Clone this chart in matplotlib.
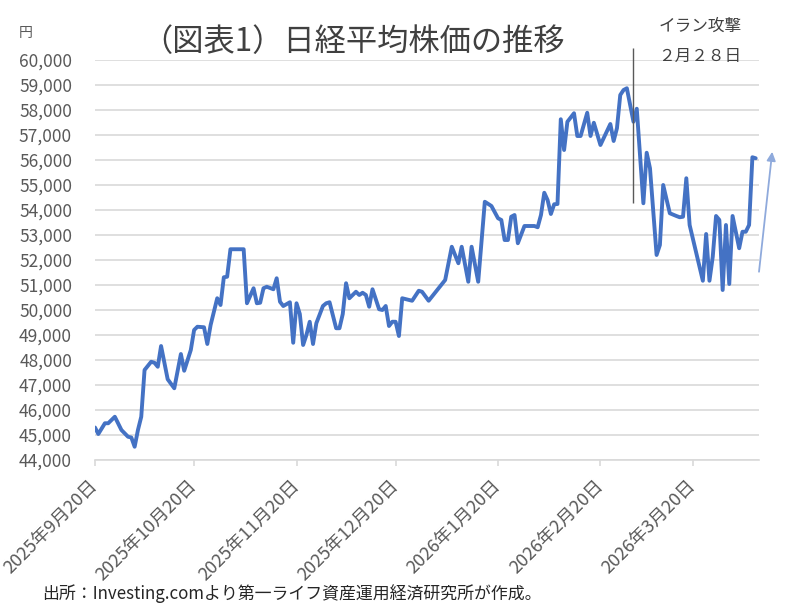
import matplotlib
matplotlib.use('Agg')
import matplotlib.pyplot as plt
import matplotlib.ticker as mticker
import pandas as pd

plt.rcParams['font.family'] = ['Noto Sans CJK JP', 'DejaVu Sans']

# 日経平均
dates = [
    '2025-09-20', '2025-09-21', '2025-09-23', '2025-09-24', '2025-09-26', '2025-09-28',
    '2025-09-30', '2025-10-01', '2025-10-02', '2025-10-03', '2025-10-04', '2025-10-05',
    '2025-10-07', '2025-10-08', '2025-10-09', '2025-10-10', '2025-10-12', '2025-10-14',
    '2025-10-16', '2025-10-17', '2025-10-19', '2025-10-20', '2025-10-21', '2025-10-23',
    '2025-10-24', '2025-10-25', '2025-10-26', '2025-10-27', '2025-10-28', '2025-10-29',
    '2025-10-30', '2025-10-31', '2025-11-04', '2025-11-05', '2025-11-07', '2025-11-08',
    '2025-11-09', '2025-11-10', '2025-11-11', '2025-11-13', '2025-11-14', '2025-11-15',
    '2025-11-16', '2025-11-18', '2025-11-19', '2025-11-20', '2025-11-21', '2025-11-22',
    '2025-11-23', '2025-11-24', '2025-11-25', '2025-11-26', '2025-11-28', '2025-11-29',
    '2025-11-30', '2025-12-02', '2025-12-03', '2025-12-04', '2025-12-05', '2025-12-06',
    '2025-12-07', '2025-12-08', '2025-12-09', '2025-12-10', '2025-12-11', '2025-12-12',
    '2025-12-13', '2025-12-15', '2025-12-16', '2025-12-17', '2025-12-18', '2025-12-19',
    '2025-12-20', '2025-12-21', '2025-12-22', '2025-12-25', '2025-12-27', '2025-12-28',
    '2025-12-30', '2026-01-04', '2026-01-06', '2026-01-08', '2026-01-09', '2026-01-11',
    '2026-01-12', '2026-01-14', '2026-01-16', '2026-01-18', '2026-01-20', '2026-01-21',
    '2026-01-22', '2026-01-23', '2026-01-24', '2026-01-25', '2026-01-26', '2026-01-28',
    '2026-01-31', '2026-02-01', '2026-02-02', '2026-02-03', '2026-02-04', '2026-02-05',
    '2026-02-06', '2026-02-07', '2026-02-08', '2026-02-09', '2026-02-10', '2026-02-12',
    '2026-02-13', '2026-02-14', '2026-02-16', '2026-02-17', '2026-02-18', '2026-02-20',
    '2026-02-23', '2026-02-24', '2026-02-25', '2026-02-26', '2026-02-27', '2026-02-28',
    '2026-03-02', '2026-03-03', '2026-03-05', '2026-03-06', '2026-03-07', '2026-03-09',
    '2026-03-10', '2026-03-11', '2026-03-13', '2026-03-15', '2026-03-16', '2026-03-17',
    '2026-03-18', '2026-03-19', '2026-03-23', '2026-03-24', '2026-03-25', '2026-03-26',
    '2026-03-27', '2026-03-28', '2026-03-29', '2026-03-30', '2026-03-31', '2026-04-01',
    '2026-04-03', '2026-04-04', '2026-04-05', '2026-04-06', '2026-04-07', '2026-04-08',
]
prices = [
    45300, 45040, 45470, 45470, 45730, 45200,
    44930, 44900, 44530, 45200, 45730, 47600,
    47930, 47890, 47730, 48560, 47230, 46870,
    48240, 47570, 48400, 49200, 49330, 49310,
    48640, 49400, 49930, 50470, 50200, 51310,
    51330, 52430, 52430, 50270, 50870, 50270,
    50290, 50870, 50930, 50830, 51270, 50330,
    50160, 50310, 48690, 50270, 49840, 48600,
    49000, 49530, 48640, 49470, 50160, 50270,
    50310, 49270, 49270, 49840, 51070, 50470,
    50600, 50730, 50600, 50690, 50600, 50130,
    50830, 50030, 50000, 50160, 49360, 49530,
    49530, 48960, 50470, 50370, 50770, 50730,
    50370, 51200, 52530, 51870, 52530, 51130,
    52530, 51130, 54330, 54160, 53670, 53600,
    52800, 52800, 53730, 53800, 52670, 53360,
    53360, 53310, 53800, 54690, 54400, 53840,
    54230, 54240, 57630, 56400, 57530, 57870,
    56960, 56960, 57890, 56960, 57490, 56600,
    57440, 56760, 57270, 58600, 58800, 58870,
    57530, 58050, 54270, 56290, 55670, 52200,
    52600, 55000, 53870, 53760, 53710, 53730,
    55270, 53400, 51170, 53040, 51170, 52130,
    53760, 53600, 50800, 53400, 51040, 53760,
    52470, 53130, 53130, 53400, 56110, 56070,
]

tick_dates = ['2025-09-20', '2025-10-20', '2025-11-20', '2025-12-20',
              '2026-01-20', '2026-02-20', '2026-03-20']
tick_labels = ['2025年9月20日', '2025年10月20日', '2025年11月20日', '2025年12月20日',
               '2026年1月20日', '2026年2月20日', '2026年3月20日']

event_date = '2026-03-02'
event_range = [54300, 60500]
arrow_from = ('2026-04-09', 51530)
arrow_to = ('2026-04-13', 56330)

fig = plt.figure(figsize=(7.92, 6.04), dpi=100)
ax = fig.add_axes([95 / 792, 1 - 460 / 604, 664 / 792, 400 / 604])

ax.plot(pd.to_datetime(dates), prices, color='#4472C4', lw=2.8,
        solid_joinstyle='round', solid_capstyle='round', zorder=3)

ax.set_xlim(pd.Timestamp('2025-09-20'), pd.Timestamp('2026-04-09'))
ax.set_ylim(44000, 60000)
ax.yaxis.set_major_locator(mticker.MultipleLocator(1000))
ax.yaxis.set_major_formatter(mticker.StrMethodFormatter('{x:,.0f}'))
ax.grid(axis='y', color='#D9D9D9', lw=1.2)
ax.set_axisbelow(True)

for s in ['top', 'right', 'left']:
    ax.spines[s].set_visible(False)
ax.spines['bottom'].set_color('#D9D9D9')
ax.spines['bottom'].set_linewidth(1.2)

ax.set_xticks(pd.to_datetime(tick_dates))
ax.set_xticklabels(tick_labels, rotation=45, ha='right', va='center',
                   rotation_mode='anchor', fontsize=13, color='#595959')
ax.tick_params(axis='x', length=4.5, width=1.2, color='#D9D9D9', pad=12)
ax.tick_params(axis='y', length=0, pad=16.5, labelsize=12.5, labelcolor='#595959')

# イラン攻撃の縦線と矢印
ax.vlines(pd.Timestamp(event_date), event_range[0], event_range[1],
          color='#595959', lw=1.0, clip_on=False, zorder=4)
ax.annotate('', xy=(pd.Timestamp(arrow_to[0]), arrow_to[1]),
            xytext=(pd.Timestamp(arrow_from[0]), arrow_from[1]),
            arrowprops=dict(arrowstyle='-|>', color='#8FAADC', lw=1.3,
                            mutation_scale=13, shrinkA=0, shrinkB=0),
            annotation_clip=False)

fig.text(353 / 792, 1 - 42 / 604, '（図表1）日経平均株価の推移', ha='center', va='center',
         fontsize=22.5, color='#404040')
fig.text(26 / 792, 1 - 33 / 604, '円', ha='center', va='center', fontsize=10, color='#595959')
fig.text(700 / 792, 1 - 26 / 604, 'イラン攻撃', ha='center', va='center', fontsize=12, color='#404040')
fig.text(700 / 792, 1 - 56 / 604, '２月２８日', ha='center', va='center', fontsize=12, color='#404040')
fig.text(42 / 792, 1 - 594 / 604, '出所：Investing.comより第一ライフ資産運用経済研究所が作成。',
         ha='left', va='center', fontsize=12.2, color='#262626')

fig.savefig('out.png', dpi=100)
